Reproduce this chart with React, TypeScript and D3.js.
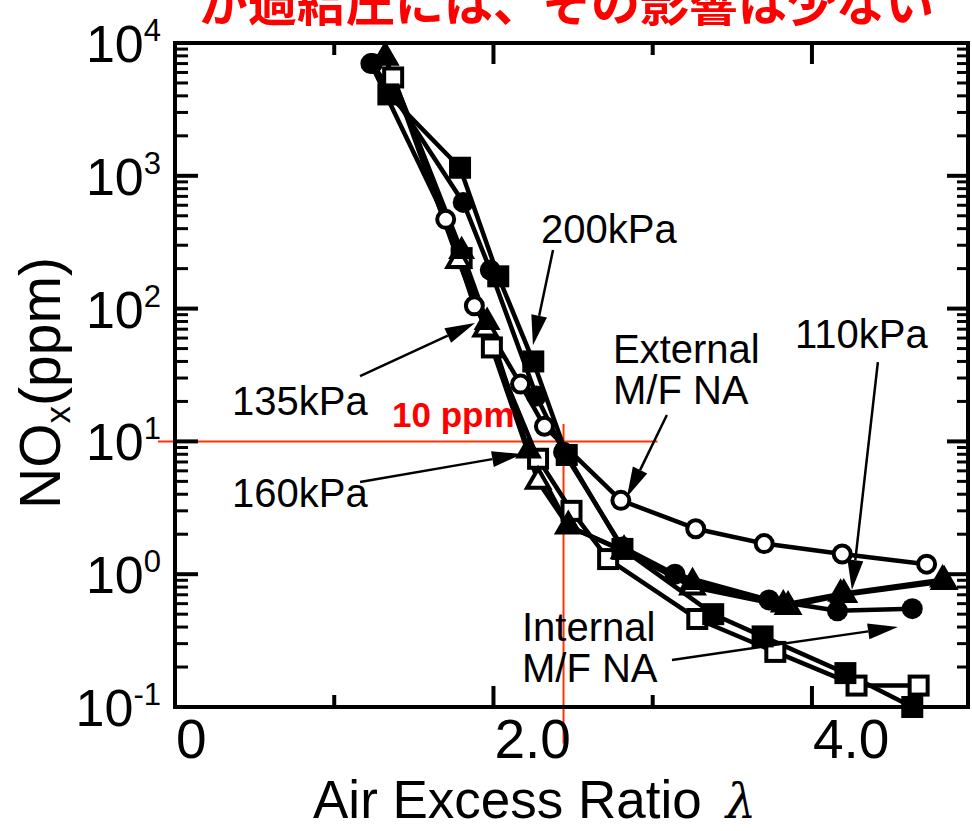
import React from "react";
import * as d3 from "d3";

// ---------- data ----------
// External M/F NA (open circles)
const extLambda = [1.23, 1.70, 1.88, 2.17, 2.32, 2.80, 3.27, 3.70, 4.19, 4.72];
const extNox = [7000, 470, 105, 27, 13, 3.6, 2.2, 1.7, 1.42, 1.19];
// Internal M/F NA (filled circles)
const intLambda = [1.24, 1.81, 1.98, 2.27, 2.44, 2.81, 3.14, 3.73, 4.16, 4.63];
const intNox = [7000, 630, 195, 22, 8.3, 1.6, 1.0, 0.64, 0.53, 0.55];
// 200kPa (filled squares)
const p200Lambda = [1.34, 1.79, 2.03, 2.25, 2.46, 2.81, 3.38, 3.69, 4.21, 4.63];
const p200Nox = [4100, 1150, 175, 40, 7.9, 1.55, 0.5, 0.34, 0.18, 0.1];
// 160kPa (open squares)
const p160Lambda = [1.37, 1.80, 1.99, 2.28, 2.49, 2.72, 3.28, 3.77, 4.28, 4.67];
const p160Nox = [5500, 240, 51, 7.4, 3.0, 1.3, 0.46, 0.26, 0.145, 0.145];
// 135kPa (filled triangles)
const p135Lambda = [1.32, 1.80, 1.96, 2.22, 2.47, 3.25, 3.82, 4.18, 4.82];
const p135Nox = [7800, 270, 79, 8.5, 2.3, 0.87, 0.59, 0.71, 0.91];
// 110kPa (open triangles)
const p110Lambda = [1.32, 1.78, 1.95, 2.28, 2.47, 2.82, 3.25, 3.85, 4.20, 4.83];
const p110Nox = [7800, 230, 70, 5.0, 2.3, 1.5, 0.8, 0.57, 0.7, 0.88];

const xTicks = [0, 1, 2, 3, 4, 5];
const xLabels = [
  { v: 0, t: "0" },
  { v: 2, t: "2.0" },
  { v: 4, t: "4.0" },
];
const yExponents = [-1, 0, 1, 2, 3, 4];

const TARGET_NOX = 10;
const TARGET_LAMBDA = 2.44;

const titleText = "が過給圧には、その影響は少ない";

// annotation arrows in data units: [startLambda, startNox, tipLambda, tipNox]
const arrows: [number, number, number, number][] = [
  [2.374, 276, 2.248, 53],
  [1.162, 31, 1.884, 78],
  [1.162, 4.94, 2.179, 8.04],
  [3.089, 15.8, 2.838, 3.81],
  [4.414, 39.6, 4.251, 0.76],
  [3.121, 0.226, 4.54, 0.4],
];

// ---------- layout ----------
const W = 972;
const H = 831;
const LEFT = 175;
const RIGHT = 968;
const TOP = 43;
const BOTTOM = 707;

const FONT = "'Liberation Sans', Arial, Helvetica, sans-serif";

type Marker = "circle" | "square" | "triangle";
interface Series {
  name: string;
  lambda: number[];
  nox: number[];
  marker: Marker;
  filled: boolean;
}

const series: Series[] = [
  { name: "External M/F NA", lambda: extLambda, nox: extNox, marker: "circle", filled: false },
  { name: "160kPa", lambda: p160Lambda, nox: p160Nox, marker: "square", filled: false },
  { name: "110kPa", lambda: p110Lambda, nox: p110Nox, marker: "triangle", filled: false },
  { name: "135kPa", lambda: p135Lambda, nox: p135Nox, marker: "triangle", filled: true },
  { name: "Internal M/F NA", lambda: intLambda, nox: intNox, marker: "circle", filled: true },
  { name: "200kPa", lambda: p200Lambda, nox: p200Nox, marker: "square", filled: true },
];

export default function App() {
  const x = d3.scaleLinear().domain([0, 4.98]).range([LEFT, RIGHT]);
  const y = d3.scaleLog().domain([0.1, 10000]).range([BOTTOM, TOP]);

  const line = d3
    .line<[number, number]>()
    .x((d) => x(d[0]))
    .y((d) => y(d[1]));

  const minorY: number[] = [];
  for (let e = -1; e < 4; e++) {
    for (let m = 2; m <= 9; m++) minorY.push(m * Math.pow(10, e));
  }

  const marker = (s: Series, i: number) => {
    const cx = x(s.lambda[i]);
    const cy = y(s.nox[i]);
    const fill = s.filled ? "#000" : "#fff";
    const sw = s.filled ? 0 : 4;
    if (s.marker === "circle") {
      return (
        <circle key={i} cx={cx} cy={cy} r={s.filled ? 10.5 : 8.5} fill={fill} stroke="#000" strokeWidth={sw} />
      );
    }
    if (s.marker === "square") {
      const a = s.filled ? 22 : 18;
      return (
        <rect key={i} x={cx - a / 2} y={cy - a / 2} width={a} height={a} fill={fill} stroke="#000" strokeWidth={sw} />
      );
    }
    const side = s.filled ? 27 : 22;
    const h = (side * Math.sqrt(3)) / 2;
    const p = `M${cx},${cy - (2 * h) / 3}L${cx + side / 2},${cy + h / 3}L${cx - side / 2},${cy + h / 3}Z`;
    return <path key={i} d={p} fill={fill} stroke="#000" strokeWidth={sw} strokeLinejoin="miter" />;
  };

  const arrowEl = (a: [number, number, number, number], i: number) => {
    const x1 = x(a[0]);
    const y1 = y(a[1]);
    const x2 = x(a[2]);
    const y2 = y(a[3]);
    const dx = x2 - x1;
    const dy = y2 - y1;
    const len = Math.hypot(dx, dy);
    const ux = dx / len;
    const uy = dy / len;
    const hl = 30;
    const hw = 8;
    const bx = x2 - ux * hl;
    const by = y2 - uy * hl;
    const head = `M${x2},${y2}L${bx - uy * hw},${by + ux * hw}L${bx + uy * hw},${by - ux * hw}Z`;
    return (
      <g key={i}>
        <line x1={x1} y1={y1} x2={bx} y2={by} stroke="#000" strokeWidth={2.5} />
        <path d={head} fill="#000" />
      </g>
    );
  };

  return (
    <svg
      width={W}
      height={H}
      style={{ position: "absolute", left: 0, top: 0, background: "#fff" }}
      fontFamily={FONT}
    >
      <rect x={0} y={0} width={W} height={H} fill="#fff" />
      {/* title (cut off at the top edge, as in the source) */}
      <text
        x={199}
        y={21}
        fontFamily="'Noto Sans CJK JP', sans-serif"
        fontWeight="bold"
        fontSize={49}
        fill="#ff0000"
      >
        {titleText}
      </text>

      {/* red guide lines */}
      <line x1={x(-0.107)} x2={x(3.03)} y1={y(TARGET_NOX)} y2={y(TARGET_NOX)} stroke="#ff3300" strokeWidth={2} />
      <line x1={x(TARGET_LAMBDA)} x2={x(TARGET_LAMBDA)} y1={y(13.5)} y2={y(0.053)} stroke="#ff3300" strokeWidth={2} />

      {/* frame */}
      <rect x={LEFT} y={TOP} width={RIGHT - LEFT} height={BOTTOM - TOP} fill="none" stroke="#000" strokeWidth={4} />

      {/* y ticks left & right */}
      {yExponents.map((e) => {
        const yy = y(Math.pow(10, e));
        return (
          <g key={"ym" + e}>
            <line x1={LEFT} x2={LEFT + 23} y1={yy} y2={yy} stroke="#000" strokeWidth={4} />
            <line x1={RIGHT} x2={RIGHT - 21} y1={yy} y2={yy} stroke="#000" strokeWidth={4} />
          </g>
        );
      })}
      {minorY.map((v, i) => {
        const yy = y(v);
        return (
          <g key={"yn" + i}>
            <line x1={LEFT} x2={LEFT + 13} y1={yy} y2={yy} stroke="#000" strokeWidth={3} />
            <line x1={RIGHT} x2={RIGHT - 11} y1={yy} y2={yy} stroke="#000" strokeWidth={3} />
          </g>
        );
      })}

      {/* x ticks top & bottom */}
      {xTicks.map((t) => {
        const xx = x(t);
        const len = t % 2 === 0 ? 21 : 12;
        if (xx > RIGHT - 2 || xx < LEFT + 2) return null;
        return (
          <g key={"xt" + t}>
            <line x1={xx} x2={xx} y1={BOTTOM} y2={BOTTOM - len} stroke="#000" strokeWidth={4} />
            <line x1={xx} x2={xx} y1={TOP} y2={TOP + len} stroke="#000" strokeWidth={4} />
          </g>
        );
      })}

      {/* x labels */}
      {xLabels.map((l) => (
        <text key={l.t} x={x(l.v) + 1} y={758} fontSize={55} fill="#000">
          {l.t}
        </text>
      ))}

      {/* y labels */}
      {yExponents.map((e) => (
        <text key={"yl" + e} x={161} y={y(Math.pow(10, e)) + 19} fontSize={52} textAnchor="end" fill="#000">
          10
          <tspan dy={-21} fontSize={31}>
            {e < 0 ? "-" + Math.abs(e) : String(e)}
          </tspan>
        </text>
      ))}

      {/* axis titles */}
      <text x={313} y={818} fontSize={53} fill="#000">
        Air Excess Ratio
        <tspan dx={24} fontFamily="'DejaVu Serif', serif" fontStyle="italic" fontSize={48}>
          λ
        </tspan>
      </text>
      <text transform="translate(60,383) rotate(-90)" textAnchor="middle" fontSize={57} fill="#000">
        NO
        <tspan dy={10} fontSize={35}>
          x
        </tspan>
        <tspan dy={-10}>(ppm)</tspan>
      </text>

      {/* series lines */}
      {series.map((s) => (
        <path
          key={"l" + s.name}
          d={line(s.lambda.map((l, i) => [l, s.nox[i]] as [number, number])) || ""}
          fill="none"
          stroke="#000"
          strokeWidth={4.5}
          strokeLinejoin="round"
        />
      ))}
      {/* markers */}
      {series.map((s) => (
        <g key={"m" + s.name}>{s.lambda.map((_, i) => marker(s, i))}</g>
      ))}

      {/* annotations */}
      {arrows.map(arrowEl)}
      <g fontSize={40} fill="#000">
        <text x={541} y={243}>200kPa</text>
        <text x={232} y={415}>135kPa</text>
        <text x={232} y={507}>160kPa</text>
        <text x={613} y={363}>External</text>
        <text x={613} y={404}>M/F NA</text>
        <text x={795} y={348}>110kPa</text>
        <text x={522} y={641}>Internal</text>
        <text x={522} y={682}>M/F NA</text>
      </g>
      <text x={392} y={427} fontSize={35} fontWeight="bold" fill="#ff0000">
        10 ppm
      </text>
    </svg>
  );
}
